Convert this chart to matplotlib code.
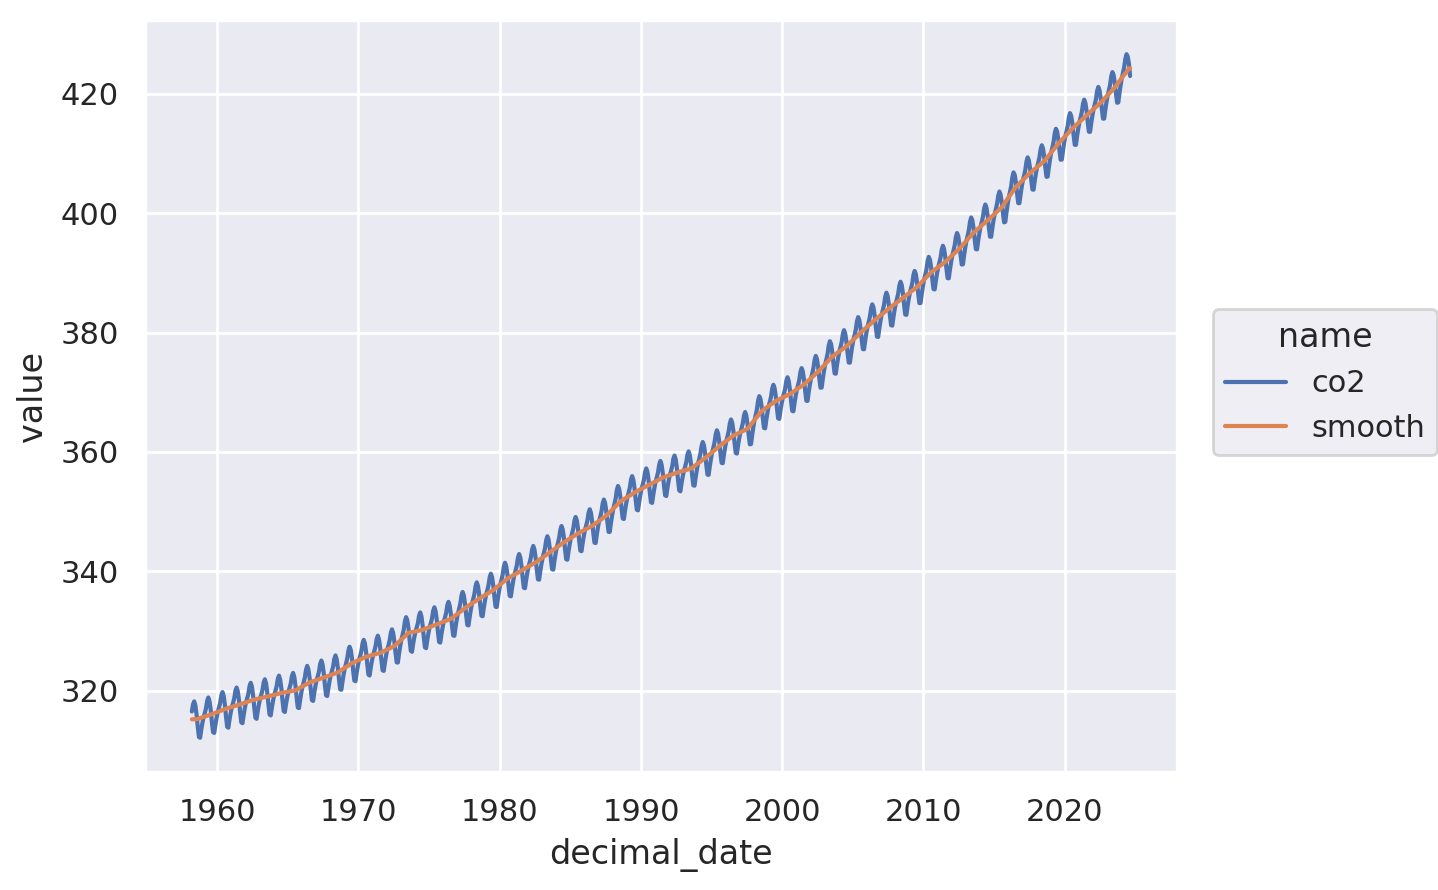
import numpy as np
import pandas as pd
import matplotlib
matplotlib.use("Agg")
import matplotlib.pyplot as plt
import seaborn as sns

years = list(range(1958, 2025))
annual_co2 = [315.2, 315.98, 316.91, 317.64, 318.45, 318.99, 319.62, 320.04, 321.37, 322.18,
              323.05, 324.62, 325.68, 326.32, 327.46, 329.68, 330.19, 331.12, 332.03, 333.84,
              335.41, 336.84, 338.76, 340.12, 341.48, 343.15, 344.87, 346.35, 347.61, 349.31,
              351.69, 353.20, 354.45, 355.70, 356.54, 357.21, 358.96, 360.97, 362.74, 363.88,
              366.84, 368.54, 369.71, 371.32, 373.45, 375.98, 377.70, 379.98, 382.09, 384.02,
              385.83, 387.64, 390.10, 391.85, 394.06, 396.74, 398.81, 401.01, 404.41, 406.76,
              408.72, 411.65, 414.21, 416.41, 418.53, 421.08, 424.3]

# seasonal departure from the annual mean, Jan..Dec
seasonal = [0.0, 0.6, 1.3, 2.5, 3.0, 2.3, 0.8, -1.3, -3.1, -3.3, -2.0, -0.9]

first_month = 3   # March 1958
last_month = 8    # August 2024

rows = []
for y, m_co2 in zip(years, annual_co2):
    for m in range(1, 13):
        if y == years[0] and m < first_month:
            continue
        if y == years[-1] and m > last_month:
            continue
        rows.append((y + (m - 0.5) / 12, m, m_co2))
df = pd.DataFrame(rows, columns=["decimal_date", "month", "annual"])
df["smooth"] = df["annual"].rolling(12, center=True, min_periods=1).mean()
df["co2"] = df["smooth"] + np.array(seasonal)[df["month"].values - 1]

long = df.melt(id_vars="decimal_date", value_vars=["co2", "smooth"],
               var_name="name", value_name="value")

sns.set_theme(style="darkgrid")
fig = plt.figure(figsize=(7.19, 4.45), dpi=200)
ax = fig.add_axes([0.1008, 0.1326, 0.7177, 0.8449])

colors = sns.color_palette("deep")
for i, (name, g) in enumerate(long.groupby("name", sort=False)):
    ax.plot(g["decimal_date"], g["value"], color=colors[i], lw=1.5, label=name)

ax.margins(x=0.05, y=0.05)
ax.set_xlabel("decimal_date")
ax.set_ylabel("value")

handles, labels = ax.get_legend_handles_labels()
fig.legend(handles, labels, title="name", loc="center left",
           bbox_to_anchor=(0.833, 0.571), frameon=True)

fig.savefig("out.png", dpi=200)
